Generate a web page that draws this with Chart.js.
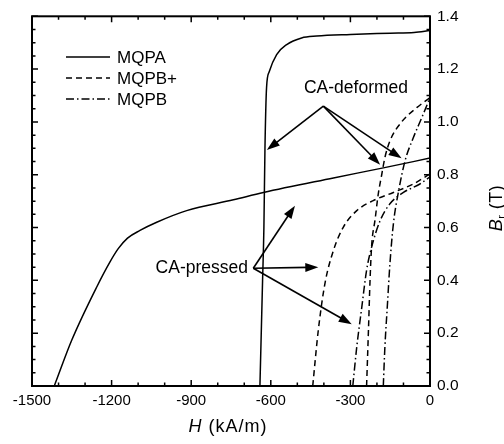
<!DOCTYPE html>
<html>
<head>
<meta charset="utf-8">
<script src="https://cdn.jsdelivr.net/npm/chart.js@4.4.1/dist/chart.umd.min.js"></script>
<style>
  html, body { margin: 0; padding: 0; background: #fff; }
  #wrap { width: 504px; height: 444px; }
</style>
</head>
<body>
<div id="wrap"><canvas id="grafico" width="504" height="444"></canvas></div>
<script>

// H (kA/m) e B_r (T)
const mqpaDefH = [-641, -636, -631, -626, -622, -616, -606, -578, -540, -484, -427, -300, -150, -60, 0];
const mqpaDefB = [0, 0.2, 0.4, 0.6, 0.9, 1.13, 1.19, 1.255, 1.293, 1.318, 1.325, 1.331, 1.336, 1.339, 1.346];

const mqpaPrsH = [-1416, -1350, -1256, -1206, -1175, -1140, -1093, -1030, -917, -741, -628, -364, -176, 0];
const mqpaPrsB = [0, 0.174, 0.375, 0.470, 0.520, 0.560, 0.589, 0.620, 0.664, 0.705, 0.733, 0.788, 0.826, 0.863];

const mqpbPlusDefH = [-239, -232, -226, -220, -207, -195, -182, -170, -151, -107, -50, 0];
const mqpbPlusDefB = [0, 0.21, 0.40, 0.53, 0.63, 0.727, 0.80, 0.865, 0.928, 1.0, 1.054, 1.092];

const mqpbPlusPrsH = [-442, -421, -396, -364, -327, -276, -214, -138, -63, 0];
const mqpbPlusPrsB = [0, 0.211, 0.388, 0.513, 0.601, 0.664, 0.702, 0.733, 0.765, 0.803];

const mqpbDefH = [-176, -170, -161, -151, -138, -119, -94, -63, -31, 0];
const mqpbDefB = [0, 0.148, 0.299, 0.463, 0.614, 0.735, 0.853, 0.94, 1.016, 1.092];

const mqpbPrsH = [-291, -276, -257, -239, -220, -188, -151, -100, -38, 0];
const mqpbPrsB = [0, 0.148, 0.299, 0.438, 0.526, 0.626, 0.69, 0.733, 0.765, 0.792];

const legendLabels = ['MQPA', 'MQPB+', 'MQPB'];
const xTickLabels = ['-1500', '-1200', '-900', '-600', '-300', '0'];

// anotações (em unidades dos eixos)
const deformedText = ['CA-deformed', -475, 1.128];
const deformedOrigin = [-402, 1.06];
const deformedTips = [[-615, 0.894], [-188, 0.838], [-107, 0.862]];
const pressedText = ['CA-pressed', -686, 0.445];
const pressedOrigin = [-666, 0.446];
const pressedTips = [[-509, 0.683], [-421, 0.450], [-295, 0.234]];

const FONTE = '"Liberation Sans", Arial, Helvetica, sans-serif';
const TRACOS = [[], [6, 4], [8, 3, 1.5, 3]];

function pontos(hs, bs) {
    return hs.map((h, i) => ({x: h, y: bs[i]}));
}

function serie(label, hs, bs, estilo) {
    return {
        label: label,
        data: pontos(hs, bs),
        showLine: true,
        borderColor: '#000',
        borderWidth: 1.5,
        borderDash: TRACOS[estilo],
        pointRadius: 0,
        cubicInterpolationMode: 'monotone',
        fill: false
    };
}

function seta(ctx, x0, y0, x1, y1) {
    const ang = Math.atan2(y1 - y0, x1 - x0);
    const comp = 13, meia = 4.5;
    ctx.beginPath();
    ctx.moveTo(x0, y0);
    ctx.lineTo(x1 - comp * 0.8 * Math.cos(ang), y1 - comp * 0.8 * Math.sin(ang));
    ctx.stroke();
    ctx.beginPath();
    ctx.moveTo(x1, y1);
    ctx.lineTo(x1 - comp * Math.cos(ang) + meia * Math.sin(ang), y1 - comp * Math.sin(ang) - meia * Math.cos(ang));
    ctx.lineTo(x1 - comp * Math.cos(ang) - meia * Math.sin(ang), y1 - comp * Math.sin(ang) + meia * Math.cos(ang));
    ctx.closePath();
    ctx.fill();
}

//***********************
// Moldura, ticks internos, legenda, títulos e setas
//***********************
const extras = {
    id: 'extras',
    afterDatasetsDraw(chart) {
        const ctx = chart.ctx;
        const a = chart.chartArea;
        const sx = chart.scales.x, sy = chart.scales.y;

        ctx.save();
        ctx.strokeStyle = '#000';
        ctx.fillStyle = '#000';
        ctx.setLineDash([]);

        // moldura
        ctx.lineWidth = 2;
        ctx.strokeRect(a.left, a.top, a.right - a.left, a.bottom - a.top);

        // ticks para dentro
        ctx.lineWidth = 1.5;
        ctx.beginPath();
        for (let h = -1500; h <= 0; h += 100) {
            const px = sx.getPixelForValue(h);
            const len = (h % 300 === 0) ? 6 : 3.5;
            ctx.moveTo(px, a.bottom); ctx.lineTo(px, a.bottom - len);
            ctx.moveTo(px, a.top); ctx.lineTo(px, a.top + len);
        }
        for (let i = 0; i <= 28; i++) {
            const py = sy.getPixelForValue(i * 0.05);
            const len = (i % 4 === 0) ? 6 : 3.5;
            ctx.moveTo(a.left, py); ctx.lineTo(a.left + len, py);
            ctx.moveTo(a.right, py); ctx.lineTo(a.right - len, py);
        }
        ctx.stroke();

        // legenda
        ctx.font = '17px ' + FONTE;
        ctx.textBaseline = 'middle';
        ctx.textAlign = 'left';
        legendLabels.forEach((rotulo, i) => {
            const y = 57 + i * 21;
            ctx.setLineDash(TRACOS[i]);
            ctx.lineWidth = 1.5;
            ctx.beginPath();
            ctx.moveTo(66, y); ctx.lineTo(110, y);
            ctx.stroke();
            ctx.setLineDash([]);
            ctx.fillText(rotulo, 117, y + 1);
        });

        // anotações
        ctx.font = '17.5px ' + FONTE;
        ctx.textAlign = 'left';
        ctx.fillText(deformedText[0], sx.getPixelForValue(deformedText[1]), sy.getPixelForValue(deformedText[2]));
        ctx.textAlign = 'right';
        ctx.fillText(pressedText[0], sx.getPixelForValue(pressedText[1]), sy.getPixelForValue(pressedText[2]));

        ctx.lineWidth = 1.6;
        const grupos = [[deformedOrigin, deformedTips], [pressedOrigin, pressedTips]];
        grupos.forEach(([orig, pontas]) => {
            const ox = sx.getPixelForValue(orig[0]), oy = sy.getPixelForValue(orig[1]);
            pontas.forEach(p => {
                seta(ctx, ox, oy, sx.getPixelForValue(p[0]), sy.getPixelForValue(p[1]));
            });
        });

        // título do eixo x: H (kA/m)
        ctx.textAlign = 'left';
        ctx.textBaseline = 'middle';
        ctx.letterSpacing = '1px';
        const tamX = 18;
        ctx.font = 'italic ' + tamX + 'px ' + FONTE;
        const wH = ctx.measureText('H').width;
        ctx.font = tamX + 'px ' + FONTE;
        const wResto = ctx.measureText(' (kA/m)').width;
        let x0 = (a.left + a.right) / 2 - 3 - (wH + wResto) / 2;
        ctx.font = 'italic ' + tamX + 'px ' + FONTE;
        ctx.fillText('H', x0, 427);
        ctx.font = tamX + 'px ' + FONTE;
        ctx.fillText(' (kA/m)', x0 + wH, 427);

        // título do eixo y: B_r (T)
        ctx.translate(497, 208);
        ctx.rotate(-Math.PI / 2);
        ctx.letterSpacing = '0.5px';
        ctx.font = 'italic 18px ' + FONTE;
        const wB = ctx.measureText('B').width;
        ctx.font = '11px ' + FONTE;
        const wr = ctx.measureText('r').width;
        ctx.font = '18px ' + FONTE;
        const wT = ctx.measureText(' (T)').width;
        let y0 = -(wB + wr + wT) / 2;
        ctx.font = 'italic 18px ' + FONTE;
        ctx.fillText('B', y0, 0);
        ctx.font = '11px ' + FONTE;
        ctx.fillText('r', y0 + wB, 5);
        ctx.font = '18px ' + FONTE;
        ctx.fillText(' (T)', y0 + wB + wr, 0);

        ctx.restore();
    }
};

new Chart(document.getElementById('grafico'), {
    type: 'scatter',
    data: {
        datasets: [
            serie(legendLabels[0], mqpaDefH, mqpaDefB, 0),
            serie(legendLabels[0], mqpaPrsH, mqpaPrsB, 0),
            serie(legendLabels[1], mqpbPlusDefH, mqpbPlusDefB, 1),
            serie(legendLabels[1], mqpbPlusPrsH, mqpbPlusPrsB, 1),
            serie(legendLabels[2], mqpbDefH, mqpbDefB, 2),
            serie(legendLabels[2], mqpbPrsH, mqpbPrsB, 2)
        ]
    },
    options: {
        responsive: false,
        animation: false,
        layout: { padding: { left: 32, top: 15, right: 0, bottom: 0 } },
        plugins: {
            legend: { display: false },
            tooltip: { enabled: false }
        },
        scales: {
            x: {
                type: 'linear',
                position: 'bottom',
                min: -1500,
                max: 0,
                grid: { display: false, drawTicks: false, tickLength: 0 },
                border: { display: false },
                ticks: {
                    stepSize: 300,
                    padding: 6,
                    color: '#000',
                    maxRotation: 0,
                    font: { family: FONTE, size: 15 },
                    callback: (v) => xTickLabels[Math.round((v + 1500) / 300)]
                },
                afterFit: (escala) => { escala.height = 58; }
            },
            y: {
                type: 'linear',
                position: 'right',
                min: 0,
                max: 1.4,
                grid: { display: false, drawTicks: false, tickLength: 0 },
                border: { display: false },
                ticks: {
                    stepSize: 0.2,
                    padding: 7,
                    color: '#000',
                    font: { family: FONTE, size: 15.5 },
                    callback: (v) => v.toFixed(1)
                },
                afterFit: (escala) => { escala.width = 74; }
            }
        }
    },
    plugins: [extras]
});
</script>
</body>
</html>
